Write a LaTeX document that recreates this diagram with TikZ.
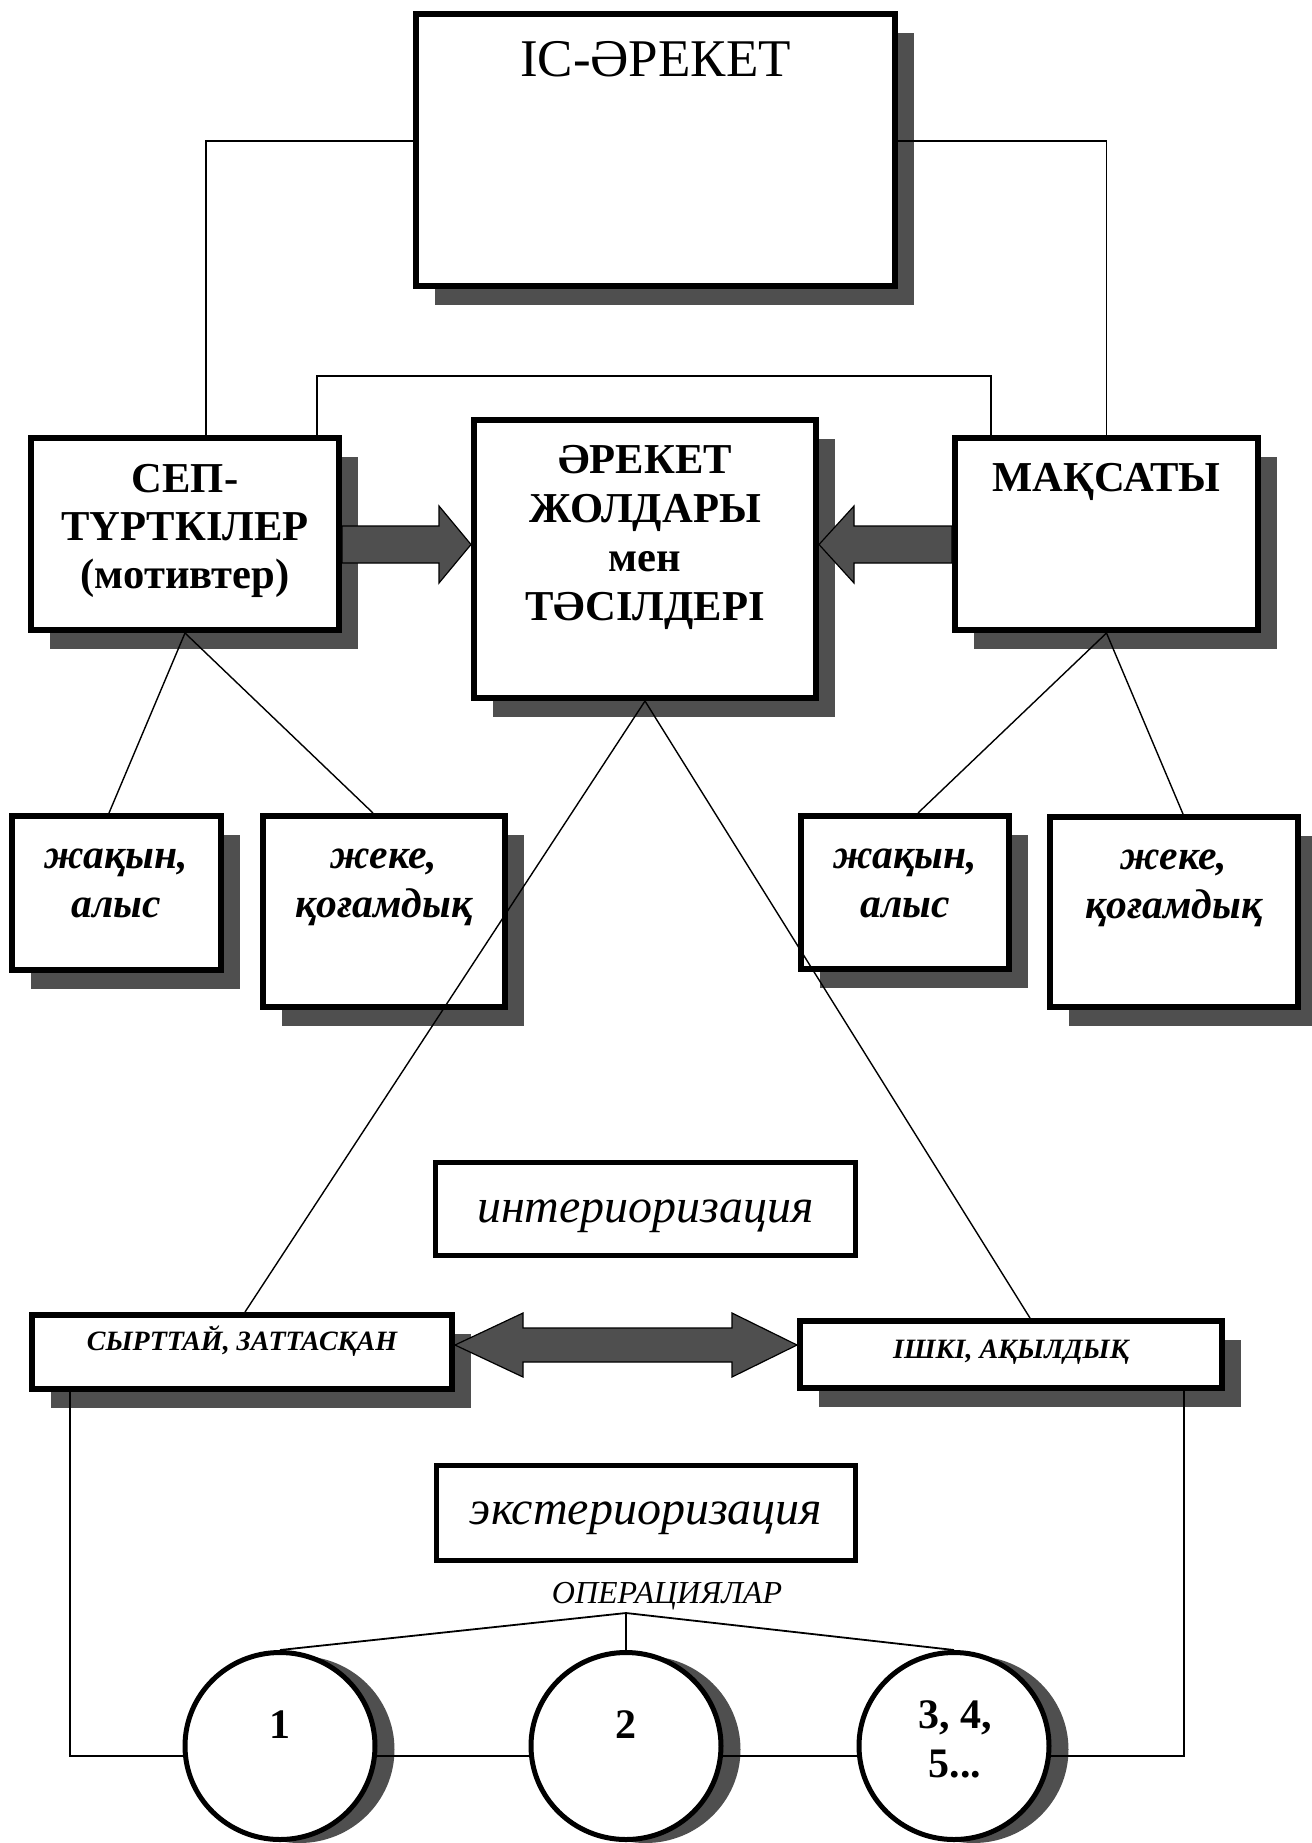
\documentclass[tikz,border=0pt]{standalone}
\usepackage{fontspec}
\setmainfont{Liberation Serif}
\usetikzlibrary{shadows,shapes.geometric}
\definecolor{shadowgray}{RGB}{79,79,79}
\begin{document}
\begin{tikzpicture}[x=0.5pt,y=-0.5pt,
  box/.style={draw,line width=2.8pt,fill=white,inner sep=0pt,
     drop shadow={shadow xshift=9.5pt,shadow yshift=-9.5pt,fill=shadowgray,opacity=1}},
  flatbox/.style={draw,line width=2.5pt,fill=white,inner sep=0pt},
  oval/.style={ellipse,draw,line width=2.5pt,fill=white,inner sep=0pt,
     minimum width=95pt,minimum height=93.5pt,
     drop shadow={shadow xshift=9.75pt,shadow yshift=-1.75pt,fill=shadowgray,opacity=1}},
  link/.style={line width=0.7pt},
  opline/.style={line width=0.9pt},
  blockarrow/.style={draw=black,line width=0.6pt,fill=shadowgray,line join=miter},
  txt/.style={inner sep=0pt,align=center},
  headfont/.style={font=\fontsize{21.3pt}{24pt}\selectfont\bfseries},
  midfont/.style={font=\fontsize{21.3pt}{24.5pt}\selectfont\bfseries},
  smallfont/.style={font=\fontsize{20.8pt}{24.5pt}\selectfont\bfseries\itshape},
  procfont/.style={font=\fontsize{24pt}{28pt}\selectfont\itshape},
  kindfont/.style={font=\fontsize{14pt}{16pt}\selectfont\bfseries\itshape},
  numfont/.style={font=\fontsize{21pt}{24.5pt}\selectfont\bfseries}
]
\useasboundingbox (0,0) rectangle (1312,1843);

% ---- boxes ----
\node[box,minimum width=239.7pt,minimum height=136.2pt] (top) at (655.5,150) {};
\node[box,minimum width=154.2pt,minimum height=96.2pt] (sep) at (185,534) {};
\node[box,minimum width=171.2pt,minimum height=139.2pt] (mid) at (645,559) {};
\node[box,minimum width=151.7pt,minimum height=96.2pt] (maq) at (1106.5,534) {};
\node[box,minimum width=104.7pt,minimum height=77.2pt] (lnear) at (116.5,893) {};
\node[box,minimum width=121.2pt,minimum height=95.7pt] (lpers) at (384,911.5) {};
\node[box,minimum width=104.2pt,minimum height=76.7pt] (rnear) at (905,892.5) {};
\node[box,minimum width=124.2pt,minimum height=95.2pt] (rpers) at (1174,912) {};
\node[flatbox,minimum width=210pt,minimum height=46.5pt] (inter) at (645.5,1209) {};
\node[flatbox,minimum width=209.5pt,minimum height=47.5pt] (exter) at (646,1513) {};
\node[box,minimum width=210.2pt,minimum height=37.2pt] (outer) at (242,1352) {};
\node[box,minimum width=211.2pt,minimum height=33.7pt] (inner) at (1011,1354.5) {};
\node[oval] (c1) at (280,1746) {};
\node[oval] (c2) at (626,1746) {};
\node[oval] (c3) at (954,1746) {};

% ---- texts ----
\node[txt,anchor=base,font=\fontsize{26.5pt}{30pt}\selectfont] (ttop) at (655.5,76) {ІС-ӘРЕКЕТ};
\node[txt,anchor=north,headfont] (tsep) at (185,458.4) {\strut СЕП-\\\strut ТҮРТКІЛЕР\\\strut (мотивтер)};
\node[txt,anchor=north,midfont] (tmid) at (645,438.7) {\strut ӘРЕКЕТ\\\strut ЖОЛДАРЫ\\\strut мен\\\strut ТӘСІЛДЕРІ};
\node[txt,anchor=base,headfont] (tmaq) at (1106.5,491) {МАҚСАТЫ};
\node[txt,anchor=north,smallfont] (tlnear) at (116.5,833.7) {\strut жақын,\\\strut алыс};
\node[txt,anchor=north,smallfont] (tlpers) at (384,833.7) {\strut жеке,\\\strut қоғамдық};
\node[txt,anchor=north,smallfont] (trnear) at (905,833.7) {\strut жақын,\\\strut алыс};
\node[txt,anchor=north,smallfont] (trpers) at (1174,834.7) {\strut жеке,\\\strut қоғамдық};
\node[txt,anchor=base,procfont] (tinter) at (645.5,1222) {интериоризация};
\node[txt,anchor=base,procfont] (texter) at (646,1524) {экстериоризация};
\node[txt,anchor=base,kindfont] (touter) at (242,1350) {СЫРТТАЙ, ЗАТТАСҚАН};
\node[txt,anchor=base,kindfont] (tinner) at (1011,1358) {ІШКІ, АҚЫЛДЫҚ};
\node[txt,anchor=base,font=\fontsize{16pt}{18pt}\selectfont\itshape] (tops) at (667,1603) {ОПЕРАЦИЯЛАР};
\node[txt,anchor=base,numfont] (n1) at (280,1738) {1};
\node[txt,anchor=base,numfont] (n2) at (626,1738) {2};
\node[txt,anchor=north,numfont] (n3) at (955,1693.7) {\strut 3, 4,\\\strut 5...};

% ---- connectors ----
\draw[link] ([yshift=4.5pt]top.west) -| ([xshift=10.5pt]sep.north);
\draw[link] ([yshift=4.5pt]top.east) -| (maq.north);
\draw[link] ([xshift=66pt]sep.north) -- ++(0,-59) -| ([xshift=-57.75pt]maq.north);

\draw[link] (sep.south) -- ([xshift=-3.75pt]lnear.north);
\draw[link] (sep.south) -- ([xshift=-5.5pt]lpers.north);
\draw[link] (maq.south) -- ([xshift=6.5pt]rnear.north);
\draw[link] (maq.south) -- ([xshift=4.5pt]rpers.north);
\draw[link] (mid.south) -- ([xshift=1.5pt]outer.north);
\draw[link] (mid.south) -- ([xshift=9.5pt]inner.north);

% block arrows
\draw[blockarrow] ([yshift=4pt]sep.east) -- ++(97,0) -- ++(0,-20)
   -- ([yshift=7.25pt]mid.west) -- ++(-32,38.5) -- ++(0,-20) -- ++(-97,0) -- cycle;
\draw[blockarrow] ([yshift=4pt]maq.west) -- ++(-98,0) -- ++(0,-20)
   -- ([yshift=7.25pt]mid.east) -- ++(35,38.5) -- ++(0,-20) -- ++(98,0) -- cycle;
\draw[blockarrow] ([yshift=3.5pt]outer.east) -- ++(68,-32) -- ++(0,15) -- ++(209,0) -- ++(0,-15)
   -- ([yshift=4.75pt]inner.west) -- ++(-65,32) -- ++(0,-15) -- ++(-209,0) -- ++(0,15) -- cycle;

% operations fork
\coordinate (fork) at (626,1613);
\draw[opline] (fork) -- (c1.north);
\draw[opline] (fork) -- (c2.north);
\draw[opline] (fork) -- (c3.north);

% bottom loop
\coordinate (bl) at (70,1392);
\coordinate (br) at (1184,1391);
\draw[opline] (bl) |- (c1.186);
\draw[opline] (c1.354) -- (c2.186);
\draw[opline] (c2.354) -- (c3.186);
\draw[opline] (c3.354) -| (br);
\end{tikzpicture}
\end{document}
